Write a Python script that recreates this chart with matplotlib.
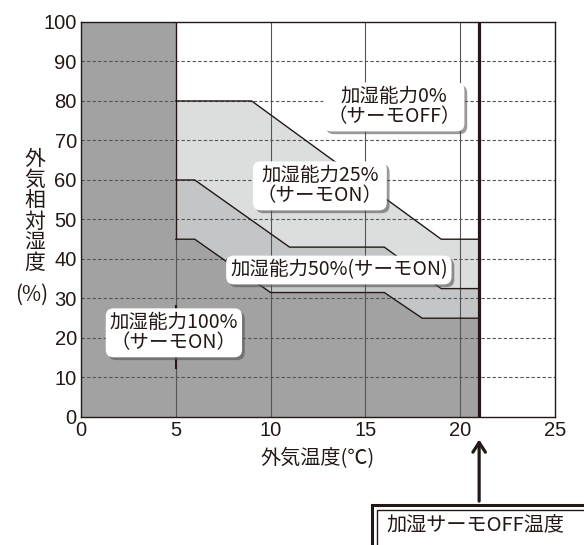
import matplotlib.pyplot as plt
import matplotlib.patheffects as pe
from matplotlib.patches import Rectangle

plt.rcParams['font.family'] = ['Noto Sans CJK JP', 'DejaVu Sans']

# boundary lines (outside temp [C], outside RH [%])
x_low = [5, 6, 10, 16, 18, 21]
y_low = [45, 45, 31.5, 31.5, 25, 25]
x_mid = [5, 6, 11, 16, 19, 21]
y_mid = [60, 60, 43, 43, 32.5, 32.5]
x_top = [5, 9, 19, 21]
y_top = [80, 80, 45, 45]
t_off = 21

xticks = [0, 5, 10, 15, 20, 25]
yticks = list(range(0, 101, 10))

labels = ['加湿能力0%\n（サーモOFF）', '加湿能力25%\n（サーモON）',
          '加湿能力50%(サーモON)', '加湿能力100%\n（サーモON）']
label_x = [16.5, 12.6, 13.6, 4.9]
label_y = [78.5, 58.5, 37.2, 21.3]

c_dark = '#a2a2a2'
c_mid = '#c4c5c6'
c_light = '#dcdddd'
ink = '#231815'

fig = plt.figure(figsize=(5.84, 5.45), dpi=100)
ax = fig.add_axes([0.1387, 0.2349, 0.8116, 0.7248])
ax.set_xlim(0, 25)
ax.set_ylim(0, 100)

# fills
ax.axvspan(0, 5, color=c_dark, lw=0, zorder=1)
ax.fill_between(x_low, 0, y_low, color=c_dark, lw=0, zorder=1)
ax.fill(x_mid + x_low[::-1], y_mid + y_low[::-1], color=c_mid, lw=0, zorder=1)
ax.fill(x_top + x_mid[::-1], y_top + y_mid[::-1], color=c_light, lw=0, zorder=1)

# grid
for y in yticks[1:-1]:
    ax.axhline(y, color='#555555', lw=0.8, ls=(0, (3, 2)), zorder=2)
for x in xticks[2:-1]:
    ax.axvline(x, color='#555555', lw=0.8, zorder=2)

# boundaries
for xs, ys in [(x_low, y_low), (x_mid, y_mid), (x_top, y_top)]:
    ax.plot(xs, ys, color=ink, lw=1.0, zorder=3)
ax.plot([5, 5], [45, 100], color=ink, lw=1.0, zorder=3)
ax.plot([5, 5], [0, 45], color='#555555', lw=0.8, zorder=2)
ax.plot([5, 5], [12.5, 28], color=ink, lw=1.5, zorder=3)
ax.axvline(t_off, color=ink, lw=2.3, zorder=4)

for s, x, y in zip(labels, label_x, label_y):
    t = ax.text(x, y, s, ha='center', va='center', fontsize=14,
                linespacing=0.95, color=ink, zorder=6,
                bbox=dict(boxstyle='round,pad=0.2,rounding_size=0.4',
                          fc='white', ec='none'))
    t.get_bbox_patch().set_path_effects(
        [pe.SimplePatchShadow(offset=(2, -2), shadow_rgbFace='#555555', alpha=0.6),
         pe.Normal()])

ax.set_xticks(xticks)
ax.set_yticks(yticks)
ax.tick_params(length=0, labelsize=14.5, colors=ink, pad=3)
for lb in ax.get_xticklabels() + ax.get_yticklabels():
    lb.set_family('Liberation Sans')
for sp in ax.spines.values():
    sp.set_color(ink)
    sp.set_linewidth(1.0)
    sp.set_zorder(5)

ax.set_xlabel('外気温度(℃)', fontsize=14.5, color=ink, labelpad=6)
fig.text(0.060, 0.497, '外\n気\n相\n対\n湿\n度', ha='center', va='bottom',
         fontsize=15, linespacing=0.93, color=ink)
fig.text(0.054, 0.459, '(%)', ha='center', va='center', fontsize=15,
         color=ink)

# arrow and box below the axis
ax.annotate('', xy=(t_off, -5.0), xytext=(t_off, -22.0),
            arrowprops=dict(arrowstyle='->,head_length=0.7,head_width=0.45',
                            lw=2.3, color=ink),
            annotation_clip=False)
ax.add_patch(Rectangle((15.35, -35), 12, 12.7, fill=False, ec=ink,
                       lw=2.2, clip_on=False))
ax.add_patch(Rectangle((15.62, -35), 12, 11.45, fill=False, ec=ink,
                       lw=1.0, clip_on=False))
ax.text(20.8, -27.2, '加湿サーモOFF温度', ha='center', va='center',
        fontsize=14.5, color=ink, clip_on=False)

fig.savefig('out.png', dpi=100)
